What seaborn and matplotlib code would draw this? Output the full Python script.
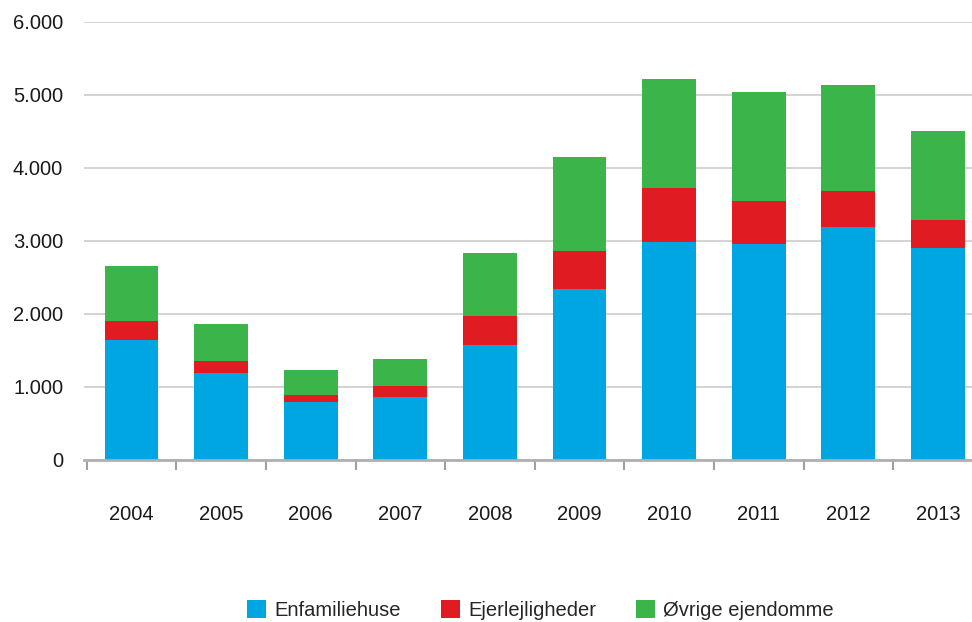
import matplotlib
matplotlib.use("Agg")
import matplotlib.pyplot as plt
import seaborn as sns
import pandas as pd
import numpy as np
from matplotlib.patches import Patch

years = ["2004", "2005", "2006", "2007", "2008", "2009", "2010", "2011", "2012", "2013"]
enfamiliehuse = [1642, 1186, 785, 863, 1575, 2342, 2982, 2955, 3193, 2900]
ejerlejligheder = [256, 163, 98, 151, 398, 521, 736, 593, 480, 377]
oevrige = [760, 509, 338, 370, 863, 1288, 1503, 1483, 1453, 1223]
series_names = ["Enfamiliehuse", "Ejerlejligheder", "Øvrige ejendomme"]
colors = ["#00A6E2", "#E01B22", "#3BB54A"]
ytick_vals = [0, 1000, 2000, 3000, 4000, 5000, 6000]
ytick_labels = ["0", "1.000", "2.000", "3.000", "4.000", "5.000", "6.000"]

sns.set_style("white")
plt.rcParams["font.family"] = ["Liberation Sans", "DejaVu Sans"]
FS = 14.5

df = pd.DataFrame({"year": years,
                   "b": enfamiliehuse,
                   "r": np.array(enfamiliehuse) + np.array(ejerlejligheder),
                   "g": np.array(enfamiliehuse) + np.array(ejerlejligheder) + np.array(oevrige)})

fig = plt.figure(figsize=(9.72, 6.22), dpi=100)
ax = fig.add_axes([84 / 972, 1 - 459.5 / 622, 1 - 84 / 972, (459.5 - 21.7) / 622])

for col, c in zip(["g", "r", "b"], colors[::-1]):
    sns.barplot(data=df, x="year", y=col, color=c, width=0.6, ax=ax,
                saturation=1, edgecolor="none", linewidth=0, zorder=3)

ax.set_yticks(ytick_vals)
ax.set_yticklabels(ytick_labels, fontsize=FS, color="#1a1a1a")
ax.yaxis.grid(True, color="#c8c8c8", linewidth=1.1, zorder=0)
ax.set_axisbelow(True)
ax.set_xlabel("")
ax.set_ylabel("")

for s in ["top", "right", "left"]:
    ax.spines[s].set_visible(False)
ax.spines["bottom"].set_color("#b0b0b0")
ax.spines["bottom"].set_linewidth(2)
ax.spines["bottom"].set_zorder(4)

ax.tick_params(axis="y", length=0, pad=15)
# category labels at centers, tick marks at boundaries
ax.set_xticks(range(len(years)))
ax.set_xticklabels(years, fontsize=FS, color="#1a1a1a")
ax.tick_params(axis="x", which="major", bottom=True, length=0, pad=33)
ax.set_xticks(np.arange(-0.5, len(years), 1.0), minor=True)
ax.tick_params(axis="x", which="minor", bottom=True, length=7, width=1.5, color="#a0a0a0")

# limits last (set_xticks may expand the view)
ax.set_ylim(0, 6000)
ax.set_xlim(-0.53, 9.38)

handles = [Patch(facecolor=c, edgecolor="none") for c in colors]
fig.legend(handles, series_names, loc="center", bbox_to_anchor=(0.556, 1 - 610 / 622),
           ncol=3, frameon=False, fontsize=FS, handlelength=0.95, handleheight=0.95,
           handletextpad=0.4, columnspacing=2.0)

fig.savefig("out.png", dpi=100)
